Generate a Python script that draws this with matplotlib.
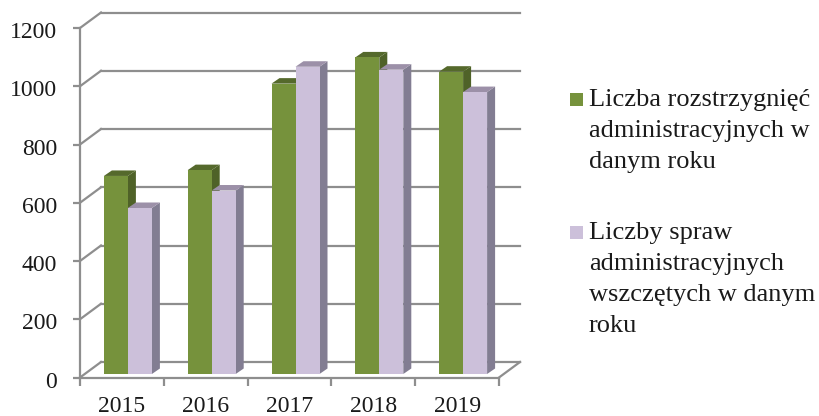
import matplotlib
matplotlib.use("Agg")
import matplotlib.pyplot as plt
from matplotlib.patches import Polygon, Rectangle
from matplotlib.transforms import ScaledTranslation

plt.rcParams['font.family'] = ['Liberation Serif', 'DejaVu Serif']

years = ['2015', '2016', '2017', '2018', '2019']
decisions = [680, 700, 997, 1087, 1038]
cases = [570, 630, 1055, 1045, 968]
y_ticks = [0, 200, 400, 600, 800, 1000, 1200]
legend_1 = ['Liczba rozstrzygnięć', 'administracyjnych w', 'danym roku']
legend_2 = ['Liczby spraw', 'administracyjnych', 'wszczętych w danym', 'roku']

GREEN, GREEN_TOP, GREEN_SIDE = '#76923C', '#55692C', '#4F6228'
LILAC, LILAC_TOP, LILAC_SIDE = '#CCC0DA', '#9C90A8', '#827D92'
GRID = '#8E8E8E'
W, H = 819, 416

fig = plt.figure(figsize=(W / 100, H / 100), dpi=100)
ax = fig.add_axes([80 / W, 1 - 377.5 / H, 419 / W, 349.5 / H])
ax.set_xlim(0, 5)
ax.set_ylim(0, 1200)
px_x = 5 / 419
px_y = 1200 / 349.5
back_dx, back_dy = 21 * px_x, 15.5 * px_y
bar_dx, bar_dy = 8 * px_x, 5.5 * px_y
bar_w = 24 * px_x
shift = 6 * px_x
base = 3.5 * px_y

for v in y_ticks:
    ax.plot([0, back_dx], [v, v + back_dy], color=GRID, lw=1.6, clip_on=False, zorder=1)
    ax.plot([back_dx, 5 + back_dx], [v + back_dy] * 2, color=GRID, lw=1.6, clip_on=False, zorder=1)
ax.plot([5, 5 + back_dx], [0, back_dy], color=GRID, lw=1.6, clip_on=False, zorder=1)


def bars3d(xs, vals, face, top, side, z):
    for x, v in zip(xs, vals):
        left, right = x - bar_w / 2, x + bar_w / 2
        t = v + base
        ax.add_patch(Polygon([(right, base), (right + bar_dx, base + bar_dy),
                              (right + bar_dx, t + bar_dy), (right, t)],
                             fc=side, ec='none', clip_on=False, zorder=z))
        ax.add_patch(Polygon([(left, t), (left + bar_dx, t + bar_dy),
                              (right + bar_dx, t + bar_dy), (right, t)],
                             fc=top, ec='none', clip_on=False, zorder=z))
    ax.bar(xs, vals, width=bar_w, bottom=base, color=face, zorder=z + 0.1, clip_on=False)


centers = [i + 0.5 + shift for i in range(len(years))]
bars3d([c - bar_w / 2 for c in centers], decisions, GREEN, GREEN_TOP, GREEN_SIDE, 2)
bars3d([c + bar_w / 2 for c in centers], cases, LILAC, LILAC_TOP, LILAC_SIDE, 3)

for s in ['top', 'right']:
    ax.spines[s].set_visible(False)
for s in ['left', 'bottom']:
    ax.spines[s].set_color(GRID)
    ax.spines[s].set_linewidth(1.6)
    ax.spines[s].set_zorder(5)
ax.set_yticks(y_ticks)
ax.set_xticks(range(6))
ax.set_xticks([i + 0.5 for i in range(5)], labels=years, minor=True)
ax.set_xticklabels([])
ax.tick_params(axis='x', which='major', length=5.5, width=1.6, color=GRID)
ax.tick_params(axis='x', which='minor', length=0, labelsize=17, pad=13.5)
ax.tick_params(axis='y', length=5, width=1.6, color=GRID, labelsize=17, pad=11.5)
for lab in ax.get_xticklabels(minor=True) + ax.get_yticklabels():
    lab.set_color('#1a1a1a')
down = ScaledTranslation(0, -2 / 100, fig.dpi_scale_trans)
for lab in ax.get_yticklabels():
    lab.set_transform(lab.get_transform() + down)


def legend_entry(lines, y_first, color):
    fig.add_artist(Rectangle((570 / W, 1 - (y_first - 1 + 6.5) / H), 13 / W, 13 / H,
                             transform=fig.transFigure, fc=color, ec='none'))
    for i, line in enumerate(lines):
        fig.text(589 / W, 1 - (y_first + i * 31) / H, line, fontsize=19,
                 color='#1a1a1a', va='center')


legend_entry(legend_1, 100, GREEN)
legend_entry(legend_2, 233, LILAC)

fig.savefig('out.png', dpi=100)
